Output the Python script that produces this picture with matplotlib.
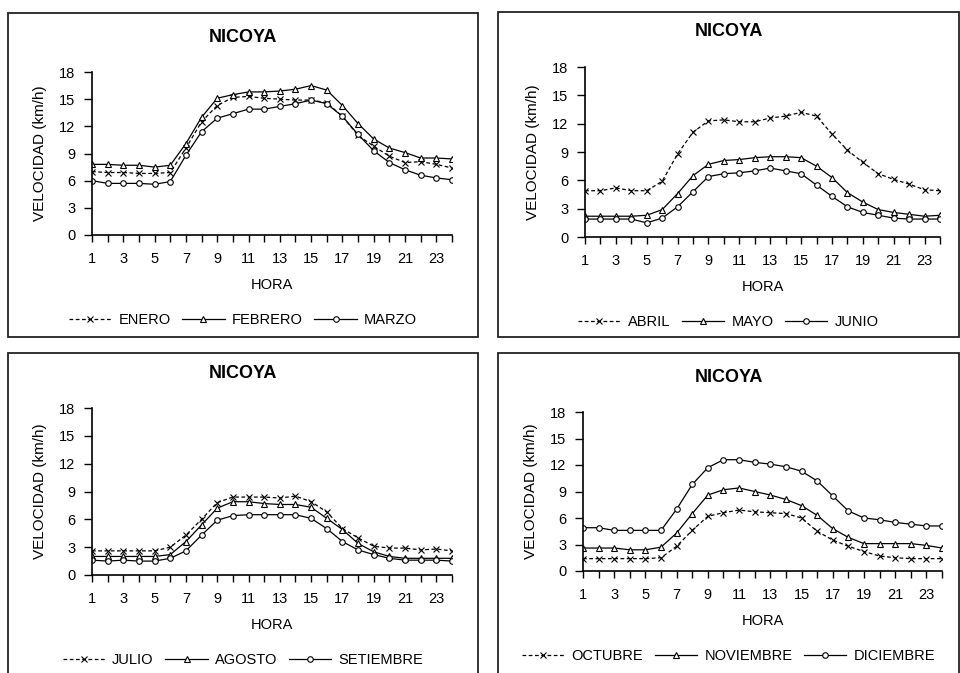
import numpy as np
import matplotlib
matplotlib.use("Agg")
import matplotlib.pyplot as plt
from matplotlib.patches import Rectangle

plt.rcParams['font.family'] = ['Liberation Sans', 'DejaVu Sans']

hours = list(range(1, 25))

# velocidad media horaria (km/h)
enero = [7.0, 6.9, 6.9, 6.8, 6.8, 6.9, 9.6, 12.5, 14.3, 15.2, 15.3, 15.1,
         15.0, 14.9, 14.9, 14.6, 13.1, 11.0, 9.8, 8.7, 8.0, 8.1, 7.8, 7.4]
febrero = [7.8, 7.8, 7.7, 7.7, 7.5, 7.7, 10.1, 13.0, 15.1, 15.5, 15.8, 15.8,
           15.9, 16.1, 16.5, 16.0, 14.3, 12.3, 10.6, 9.6, 9.1, 8.5, 8.5, 8.4]
marzo = [6.0, 5.7, 5.7, 5.7, 5.6, 5.9, 8.8, 11.4, 12.9, 13.4, 13.9, 13.9,
         14.2, 14.5, 14.9, 14.5, 13.1, 11.1, 9.3, 8.0, 7.2, 6.6, 6.3, 6.1]

abril = [4.9, 4.9, 5.2, 4.9, 4.9, 5.9, 8.8, 11.1, 12.3, 12.4, 12.2, 12.2,
         12.6, 12.8, 13.2, 12.8, 10.9, 9.2, 7.9, 6.7, 6.1, 5.6, 5.0, 4.9]
mayo = [2.2, 2.2, 2.2, 2.2, 2.3, 2.9, 4.6, 6.5, 7.7, 8.1, 8.2, 8.4,
        8.5, 8.5, 8.4, 7.5, 6.3, 4.7, 3.7, 2.9, 2.6, 2.4, 2.2, 2.3]
junio = [1.9, 1.9, 1.9, 1.9, 1.5, 2.0, 3.2, 4.8, 6.4, 6.7, 6.8, 7.0,
         7.3, 7.0, 6.7, 5.5, 4.3, 3.2, 2.6, 2.3, 2.0, 1.9, 1.9, 1.9]

julio = [2.6, 2.6, 2.6, 2.6, 2.6, 3.0, 4.3, 6.0, 7.8, 8.4, 8.4, 8.4,
         8.3, 8.5, 7.9, 6.8, 5.0, 4.0, 3.1, 2.9, 2.9, 2.7, 2.8, 2.6]
agosto = [2.0, 2.0, 2.0, 2.0, 2.0, 2.2, 3.6, 5.4, 7.2, 7.9, 7.9, 7.7,
          7.6, 7.6, 7.3, 6.1, 4.9, 3.4, 2.5, 2.0, 1.8, 1.8, 1.8, 1.8]
setiembre = [1.6, 1.5, 1.6, 1.5, 1.5, 1.8, 2.6, 4.3, 5.9, 6.4, 6.5, 6.5,
             6.5, 6.5, 6.1, 5.0, 3.6, 2.7, 2.2, 1.8, 1.6, 1.6, 1.6, 1.5]

octubre = [1.4, 1.4, 1.4, 1.4, 1.4, 1.5, 2.8, 4.6, 6.2, 6.6, 6.9, 6.7,
           6.6, 6.5, 6.0, 4.5, 3.5, 2.8, 2.2, 1.7, 1.5, 1.4, 1.4, 1.4]
noviembre = [2.6, 2.6, 2.6, 2.4, 2.4, 2.7, 4.3, 6.5, 8.6, 9.2, 9.4, 9.0,
             8.6, 8.1, 7.4, 6.3, 4.8, 3.8, 3.1, 3.1, 3.1, 3.1, 2.9, 2.6]
diciembre = [4.9, 4.9, 4.6, 4.6, 4.6, 4.6, 7.0, 9.8, 11.7, 12.6, 12.6, 12.3,
             12.1, 11.8, 11.3, 10.2, 8.5, 6.8, 6.0, 5.8, 5.5, 5.3, 5.1, 5.1]

titulo = 'NICOYA'
etiqueta_x = 'HORA'
etiqueta_y = 'VELOCIDAD (km/h)'
y_ticks = [0, 3, 6, 9, 12, 15, 18]
x_ticklabels = [str(h) if h % 2 == 1 else '' for h in hours]

W, H = 960, 673

# (meses, caja en px [x0, y0, x1, y1], ejes en px [izq, arriba, der, abajo])
paneles = [
    ([('ENERO', enero), ('FEBRERO', febrero), ('MARZO', marzo)],
     (8, 13, 478, 337), (92, 72, 452, 235)),
    ([('ABRIL', abril), ('MAYO', mayo), ('JUNIO', junio)],
     (498, 12, 959, 337), (585, 67, 940, 237)),
    ([('JULIO', julio), ('AGOSTO', agosto), ('SETIEMBRE', setiembre)],
     (8, 353, 478, 680), (92, 408, 452, 575)),
    ([('OCTUBRE', octubre), ('NOVIEMBRE', noviembre), ('DICIEMBRE', diciembre)],
     (498, 353, 959, 680), (583, 412, 942, 571)),
]

estilos = [
    dict(linestyle=(0, (3, 2)), marker='x', markersize=4, mew=0.8),
    dict(linestyle='-', marker='^', markersize=5, mfc='white', mew=0.8),
    dict(linestyle='-', marker='o', markersize=4, mfc='white', mew=0.8),
]

fig = plt.figure(figsize=(W / 100, H / 100), dpi=100, facecolor='white')

for meses, caja, ejes in paneles:
    bx0, by0, bx1, by1 = caja
    fig.patches.append(Rectangle((bx0 / W, 1 - by1 / H), (bx1 - bx0) / W,
                                 (by1 - by0) / H, transform=fig.transFigure,
                                 fill=False, edgecolor='#222222', lw=1.3))
    l, t, r, b = ejes
    ax = fig.add_axes([l / W, 1 - b / H, (r - l) / W, (b - t) / H])

    for (nombre, valores), st in zip(meses, estilos):
        ax.plot(hours, valores, color='black', lw=0.9, mec='black',
                label=nombre, **st)

    ax.set_xlim(1, 24)
    ax.set_ylim(0, 18)
    ax.set_yticks(y_ticks)
    ax.set_xticks(hours)
    ax.set_xticklabels(x_ticklabels)
    ax.tick_params(axis='x', length=5, width=1, pad=7, labelsize=10.5)
    ax.tick_params(axis='y', length=6, width=1, pad=6, labelsize=10.5)
    ax.spines['top'].set_visible(False)
    ax.spines['right'].set_visible(False)
    ax.spines['left'].set_linewidth(1.2)
    ax.spines['bottom'].set_linewidth(1.2)
    ax.set_xlabel(etiqueta_x, fontsize=10.5, labelpad=9)
    ax.set_ylabel(etiqueta_y, fontsize=11, labelpad=9)

    cx = (bx0 + bx1) / 2 / W
    fig.text(cx, 1 - (t - 35) / H, titulo, ha='center', va='center',
             fontsize=13, fontweight='bold')

    ax.legend(loc='center', bbox_to_anchor=(cx, 1 - (b + 85) / H),
              bbox_transform=fig.transFigure, ncol=3, frameon=False,
              fontsize=10.5, numpoints=1, handlelength=2.9,
              handletextpad=0.5, columnspacing=0.8)

fig.savefig('out.png', dpi=100, facecolor='white')
plt.close(fig)
